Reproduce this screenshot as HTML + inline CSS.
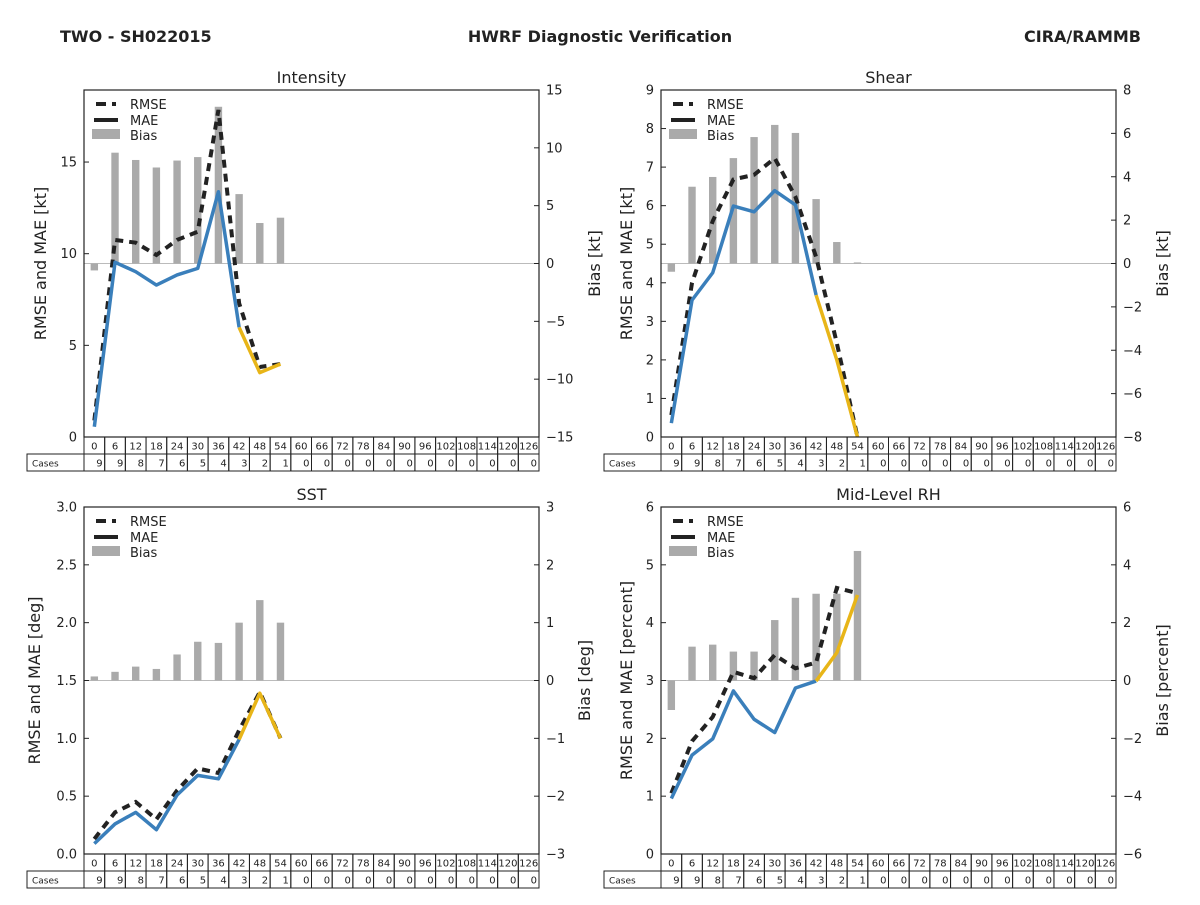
<!DOCTYPE html>
<html><head><meta charset="utf-8"><style>
body{margin:0;background:#fff;font-family:"Liberation Sans","DejaVu Sans",sans-serif;}
#c{position:relative;width:1200px;height:900px;}
</style></head><body>
<div id="c">
<svg id="s" width="1200" height="900" xmlns="http://www.w3.org/2000/svg" font-family="DejaVu Sans, Liberation Sans, sans-serif">
<text x="60" y="42" font-size="16" font-weight="bold" fill="#222">TWO - SH022015</text>
<text x="600" y="42" font-size="16" font-weight="bold" fill="#222" text-anchor="middle">HWRF Diagnostic Verification</text>
<text x="1141" y="42" font-size="16" font-weight="bold" fill="#222" text-anchor="end">CIRA/RAMMB</text>
</svg></div>
<script>
const hours=[0,6,12,18,24,30,36,42,48,54,60,66,72,78,84,90,96,102,108,114,120,126];
const cases=[9,9,8,7,6,5,4,3,2,1,0,0,0,0,0,0,0,0,0,0,0,0];
const intMAE=[0.56,9.53,9.02,8.29,8.84,9.2,13.38,5.98,3.51,3.98];
const intRMSE=[0.9,10.75,10.6,9.93,10.75,11.2,17.84,7.3,3.82,3.98];
const intBias=[-0.6,9.58,8.95,8.3,8.9,9.2,13.55,6.0,3.5,3.96];
const shrMAE=[0.36,3.55,4.26,5.99,5.84,6.39,6.02,3.68,2.0,0.0];
const shrRMSE=[0.57,4.0,5.6,6.68,6.8,7.23,6.23,4.67,2.44,0.0];
const shrBias=[-0.38,3.54,3.99,4.86,5.83,6.39,6.02,2.97,0.99,0.05];
const sstMAE=[0.09,0.26,0.36,0.21,0.51,0.68,0.65,0.99,1.39,1.0];
const sstRMSE=[0.13,0.36,0.45,0.3,0.55,0.74,0.70,1.07,1.4,1.0];
const sstBias=[0.07,0.15,0.24,0.2,0.45,0.67,0.65,1.0,1.39,1.0];
const rhMAE=[0.96,1.71,1.99,2.82,2.33,2.10,2.87,2.99,3.48,4.48];
const rhRMSE=[1.05,1.95,2.37,3.15,3.04,3.44,3.21,3.31,4.6,4.51];
const rhBias=[-1.02,1.17,1.24,1.0,1.0,2.09,2.86,3.0,3.0,4.48];
const intLeftTicks=[0,5,10,15], intRightTicks=[-15,-10,-5,0,5,10,15];
const shrLeftTicks=[0,1,2,3,4,5,6,7,8,9], shrRightTicks=[-8,-6,-4,-2,0,2,4,6,8];
const sstLeftTicks=[0,0.5,1,1.5,2,2.5,3], sstRightTicks=[-3,-2,-1,0,1,2,3];
const rhLeftTicks=[0,1,2,3,4,5,6], rhRightTicks=[-6,-4,-2,0,2,4,6];

const NS="http://www.w3.org/2000/svg", svg=document.getElementById('s');
function el(tag,at,parent,txt){const e=document.createElementNS(NS,tag);for(const k in at)e.setAttribute(k,at[k]);if(txt!==undefined)e.textContent=txt;(parent||svg).appendChild(e);return e;}
function fmt(v,dec){let s=dec?v.toFixed(1):String(v);return s.replace('-','\u2212');}
function panel(o){
  const g=el('g',{});
  
  
  const L=o.x,T=o.y,W=455,H=347,R=L+W,B=T+H;
  const cw=W/hours.length;
  const xs=i=>L+cw*(i+0.5);
  const yl=v=>B-(v-o.lmin)/(o.lmax-o.lmin)*H;
  const yr=v=>B-(v-o.rmin)/(o.rmax-o.rmin)*H;
  const t=el('text',{x:L+W/2,y:T-7,'font-size':16,'text-anchor':'middle',fill:'#222'},g,o.title);
  
  const z=el('line',{x1:L,x2:R,y1:yr(0),y2:yr(0),stroke:'#bbb','stroke-width':1},g);
  
  o.bias.forEach((v,i)=>{const y0=yr(0),y1=yr(v);
    const r=el('rect',{x:xs(i)-3.7,y:Math.min(y0,y1),width:7.4,height:Math.max(Math.abs(y1-y0),0.8),fill:'#aaa'},g);
    });
  const pr=o.rmse.map((v,i)=>xs(i)+','+yl(v)).join(' ');
  const lr=el('polyline',{points:pr,fill:'none',stroke:'#222','stroke-width':4,'stroke-dasharray':'8,6'},g);
  
  const pb=o.mae.slice(0,8).map((v,i)=>xs(i)+','+yl(v)).join(' ');
  const lb=el('polyline',{points:pb,fill:'none',stroke:'#3a7fbb','stroke-width':3.5,'stroke-linejoin':'round'},g);
  
  const py=o.mae.slice(7).map((v,i)=>xs(i+7)+','+yl(v)).join(' ');
  const ly=el('polyline',{points:py,fill:'none',stroke:'#e8b518','stroke-width':3.5,'stroke-linejoin':'round'},g);
  
  const f=el('rect',{x:L,y:T,width:W,height:H,fill:'none',stroke:'#222','stroke-width':1.2},g);
  
  o.lt.forEach(v=>{el('line',{x1:L,x2:L+5,y1:yl(v),y2:yl(v),stroke:'#222'},g);
    const tx=el('text',{x:L-7,y:yl(v)+4.5,'font-size':13,'text-anchor':'end',fill:'#222'},g,fmt(v,o.dec));
    });
  o.rt.forEach(v=>{el('line',{x1:R-5,x2:R,y1:yr(v),y2:yr(v),stroke:'#222'},g);
    const tx=el('text',{x:R+7,y:yr(v)+4.5,'font-size':13,fill:'#222'},g,fmt(v,false));
    });
  const a1=el('text',{x:0,y:0,'font-size':16,'text-anchor':'middle',fill:'#222',transform:`translate(${o.lx},${T+H/2}) rotate(-90)`},g,o.ylab);
  
  const a2=el('text',{x:0,y:0,'font-size':16,'text-anchor':'middle',fill:'#222',transform:`translate(${o.rx},${T+H/2}) rotate(-90)`},g,o.rlab);
  
  const lg=el('g',{},g);
  el('line',{x1:L+12,x2:L+36,y1:T+14,y2:T+14,stroke:'#222','stroke-width':4,'stroke-dasharray':'10,6,4,10'},lg);
  el('text',{x:L+46,y:T+19,'font-size':13,fill:'#222'},lg,'RMSE');
  el('line',{x1:L+10,x2:L+34,y1:T+30,y2:T+30,stroke:'#222','stroke-width':4},lg);
  el('text',{x:L+46,y:T+35,'font-size':13,fill:'#222'},lg,'MAE');
  el('rect',{x:L+8,y:T+39,width:28,height:10,fill:'#aaa'},lg);
  el('text',{x:L+46,y:T+50,'font-size':13,fill:'#222'},lg,'Bias');
  const tb=el('g',{},g);
  el('rect',{x:L-57,y:B+17,width:57,height:17,fill:'none',stroke:'#222'},tb);
  el('text',{x:L-52,y:B+29.5,'font-size':9,fill:'#222'},tb,'Cases');
  hours.forEach((h,i)=>{const x=L+cw*i;
    el('rect',{x:x,y:B,width:cw,height:17,fill:'none',stroke:'#222'},tb);
    el('rect',{x:x,y:B+17,width:cw,height:17,fill:'none',stroke:'#222'},tb);
    el('text',{x:x+cw/2,y:B+12.5,'font-size':10,'text-anchor':'middle',fill:'#222'},tb,h);
    el('text',{x:x+cw-2,y:B+29.5,'font-size':10,'text-anchor':'end',fill:'#222'},tb,cases[i]);});
}
panel({key:'intensity',title:'Intensity',x:84,y:90,lmin:0,lmax:18.93,rmin:-15,rmax:15,lt:intLeftTicks,rt:intRightTicks,mae:intMAE,rmse:intRMSE,bias:intBias,ylab:'RMSE and MAE [kt]',rlab:'Bias [kt]',lx:46,rx:600});
panel({key:'shear',title:'Shear',x:661,y:90,lmin:0,lmax:9,rmin:-8,rmax:8,lt:shrLeftTicks,rt:shrRightTicks,mae:shrMAE,rmse:shrRMSE,bias:shrBias,ylab:'RMSE and MAE [kt]',rlab:'Bias [kt]',lx:632,rx:1168});
panel({key:'sst',title:'SST',x:84,y:507,lmin:0,lmax:3,rmin:-3,rmax:3,lt:sstLeftTicks,rt:sstRightTicks,dec:true,mae:sstMAE,rmse:sstRMSE,bias:sstBias,ylab:'RMSE and MAE [deg]',rlab:'Bias [deg]',lx:40,rx:590});
panel({key:'rh',title:'Mid-Level RH',x:661,y:507,lmin:0,lmax:6,rmin:-6,rmax:6,lt:rhLeftTicks,rt:rhRightTicks,mae:rhMAE,rmse:rhRMSE,bias:rhBias,ylab:'RMSE and MAE [percent]',rlab:'Bias [percent]',lx:632,rx:1168});
</script>
</body></html>
